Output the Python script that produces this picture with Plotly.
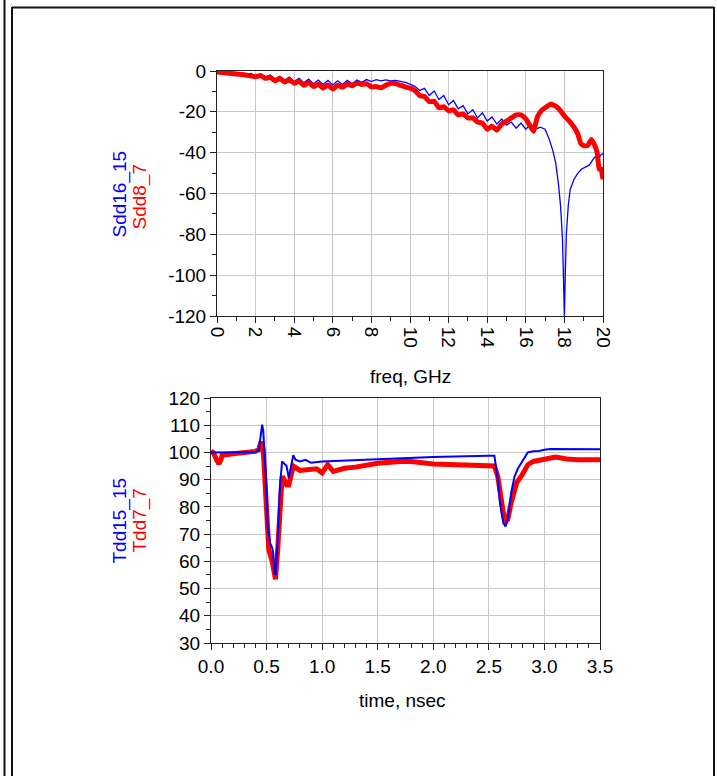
import plotly.graph_objects as go

W, H = 717, 776

# ---------------- data: top plot (S-parameters, dB vs freq GHz) ----------------
freq_blue = [0, 0.25, 0.5, 0.75, 1.0, 1.25, 1.5, 1.75, 2.0, 2.25, 2.5, 2.75, 3.0, 3.25, 3.5, 3.75,
             4.0, 4.25, 4.5, 4.75, 5.0, 5.25, 5.5, 5.75, 6.0, 6.25, 6.5, 6.75, 7.0, 7.25, 7.5, 7.75,
             8.0, 8.25, 8.5, 8.75, 9.0, 9.25, 9.5, 9.75, 10.0, 10.25, 10.5, 10.75, 11.0, 11.25, 11.5,
             11.75, 12.0, 12.25, 12.5, 12.75, 13.0, 13.25, 13.5, 13.75, 14.0, 14.25, 14.5, 14.75,
             15.0, 15.25, 15.5, 15.75, 16.0, 16.25, 16.5, 16.75, 17.0, 17.2, 17.4, 17.55, 17.7,
             17.8, 17.9, 17.95, 18.0, 18.05, 18.1, 18.2, 18.3, 18.5, 18.7, 18.9, 19.1, 19.3, 19.5,
             19.6, 19.75, 19.9, 20.0]
sdd16_15 = [0, -0.3, -0.5, -0.5, -1.0, -0.8, -1.6, -1.2, -2.4, -1.6, -3.2, -2.0, -4.0, -2.6, -4.6, -3.0,
            -5.2, -3.6, -5.8, -4.0, -6.2, -4.4, -6.6, -4.6, -6.8, -4.8, -6.6, -4.6, -6.2, -4.4, -5.6, -4.2,
            -5.2, -4.2, -4.8, -4.4, -4.8, -4.6, -5.0, -5.6, -6.4, -7.5, -9.5, -8.5, -12.0, -9.8, -14.0,
            -12.0, -16.5, -14.5, -18.5, -17.0, -21.0, -19.0, -23.0, -20.5, -24.5, -22.5, -26.0, -23.5,
            -26.5, -25.0, -28.0, -25.5, -28.5, -26.0, -28.5, -27.5, -28.5, -33.0, -39.0, -45.0, -56.0,
            -66.0, -82.0, -98.0, -120.0, -98.0, -80.0, -66.0, -58.0, -53.0, -50.0, -48.0, -47.0, -46.0, -43.0,
            -42.0, -43.0, -41.0, -40.5]

freq_red = [0, 0.5, 1.0, 1.5, 2.0, 2.25, 2.5, 2.75, 3.0, 3.25, 3.5, 3.75, 4.0, 4.25, 4.5, 4.75,
            5.0, 5.25, 5.5, 5.75, 6.0, 6.25, 6.5, 6.75, 7.0, 7.25, 7.5, 7.75, 8.0, 8.25, 8.5, 8.75,
            9.0, 9.25, 9.5, 9.75, 10.0, 10.25, 10.5, 10.75, 11.0, 11.25, 11.5, 11.75, 12.0, 12.25,
            12.5, 12.75, 13.0, 13.25, 13.5, 13.75, 14.0, 14.25, 14.5, 14.75, 15.0, 15.25, 15.5, 15.75,
            16.0, 16.2, 16.4, 16.5, 16.6, 16.8, 17.0, 17.3, 17.6, 17.8, 18.0, 18.3, 18.5, 18.7, 18.85,
            19.0, 19.2, 19.4, 19.55, 19.7, 19.8, 19.9, 20.0]
sdd8_7 = [-0.5, -1.0, -1.5, -2.0, -2.8, -2.2, -3.6, -3.0, -4.8, -3.6, -5.4, -4.4, -6.0, -5.0, -7.0, -5.6,
          -7.6, -6.4, -8.4, -6.8, -8.8, -7.0, -8.0, -6.4, -7.2, -6.0, -6.6, -6.2, -7.8, -7.6, -8.2, -7.0,
          -6.0, -6.2, -7.0, -7.8, -8.4, -9.5, -12.0, -12.5, -15.0, -14.8, -18.0, -17.5, -19.5, -19.0,
          -21.5, -21.0, -23.0, -23.0, -25.0, -25.5, -28.5, -27.0, -29.0, -26.0, -24.5, -23.0, -21.5, -21.5,
          -23.5, -26.5, -29.5, -26.0, -22.5, -19.5, -18.0, -16.3, -17.5, -19.5, -22.0, -25.0, -27.5, -31.0,
          -35.5, -36.5, -36.5, -33.5, -36.0, -40.0, -48.0, -48.0, -53.0]

# ---------------- data: bottom plot (TDR impedance vs time nsec) ----------------
time_blue = [0, 0.1, 0.2, 0.3, 0.4, 0.43, 0.45, 0.46, 0.47, 0.48, 0.5, 0.51, 0.53, 0.55, 0.56, 0.57,
             0.58, 0.6, 0.62, 0.64, 0.66, 0.68, 0.70, 0.72, 0.74, 0.76, 0.8, 0.85, 0.9, 1.0, 1.2, 1.5,
             1.8, 2.0, 2.5, 2.55, 2.58, 2.6, 2.63, 2.65, 2.67, 2.7, 2.73, 2.76, 2.8, 2.85, 2.9, 2.95,
             3.0, 3.05, 3.5]
tdd15_15 = [100, 100, 100, 100, 100.2, 100.8, 106, 110.2, 108, 102, 86, 73, 67, 65, 63, 56,
            55, 68, 87.6, 96.7, 96, 95, 90.6, 95.5, 99, 97.3, 96.7, 97.3, 96.2, 96.7, 97, 97.7,
            97.9, 98.3, 98.8, 98.8, 90, 81.4, 74, 72.8, 75.3, 85, 91, 94, 96.7, 100, 100.4, 100.5,
            101, 101.3, 101.2]

time_red = [0, 0.02, 0.05, 0.07, 0.09, 0.1, 0.2, 0.3, 0.4, 0.43, 0.45, 0.47, 0.48, 0.5, 0.52, 0.55,
            0.57, 0.58, 0.6, 0.62, 0.64, 0.66, 0.68, 0.7, 0.72, 0.74, 0.8, 0.9, 0.95, 1.0, 1.05, 1.1,
            1.2, 1.3, 1.5, 1.7, 1.8, 2.0, 2.5, 2.55, 2.58, 2.6, 2.63, 2.65, 2.67, 2.7, 2.75, 2.8,
            2.85, 2.9, 3.0, 3.1, 3.2, 3.3, 3.5]
tdd7_7 = [100.5, 100, 97.3, 95.8, 97.3, 99, 99.5, 99.8, 100.4, 101, 104, 101, 92.5, 75.3, 64.3, 60,
          54, 53.4, 64.3, 79, 91.2, 90, 88, 88, 91.2, 95, 93.4, 93.6, 94, 92.5, 95.5, 93,
          94.2, 94.6, 96, 96.7, 96.7, 95.8, 95.3, 95, 91.2, 85, 77.8, 74.7, 75.3, 81.4, 88.8, 91.8,
          95.5, 96.7, 97.3, 98.3, 97.6, 97.3, 97.3]

# tick labels
top_y_vals = [0, -20, -40, -60, -80, -100, -120]
top_y_text = ["0", "-20", "-40", "-60", "-80", "-100", "-120"]
top_x_vals = [0, 2, 4, 6, 8, 10, 12, 14, 16, 18, 20]
bot_y_vals = [30, 40, 50, 60, 70, 80, 90, 100, 110, 120]
bot_x_vals = [0.0, 0.5, 1.0, 1.5, 2.0, 2.5, 3.0, 3.5]

BLUE = "#0000ff"
RED = "#ff0000"
FONT = "Liberation Sans, Arial, sans-serif"
FS = 19

fig = go.Figure()
fig.add_trace(go.Scatter(x=freq_blue, y=sdd16_15, mode="lines", line=dict(color=BLUE, width=1.3),
                         xaxis="x", yaxis="y", showlegend=False))
fig.add_trace(go.Scatter(x=freq_red, y=sdd8_7, mode="lines", line=dict(color=RED, width=5, shape="spline", smoothing=0.4),
                         xaxis="x", yaxis="y", showlegend=False))
fig.add_trace(go.Scatter(x=time_red, y=tdd7_7, mode="lines", line=dict(color=RED, width=5),
                         xaxis="x2", yaxis="y2", showlegend=False))
fig.add_trace(go.Scatter(x=time_blue, y=tdd15_15, mode="lines", line=dict(color=BLUE, width=2),
                         xaxis="x2", yaxis="y2", showlegend=False))

def px(x):
    return x / W

def py(y):
    return 1 - y / H

axis_common = dict(showline=True, linecolor="#222", linewidth=1, mirror=True, automargin=False,
                   showgrid=True, gridcolor="#c8c8c8", gridwidth=1, zeroline=False,
                   ticks="outside", ticklen=6, tickcolor="#222", tickwidth=1,
                   tickfont=dict(family=FONT, size=FS, color="#000"))

fig.update_layout(
    width=W, height=H, margin=dict(l=0, r=0, t=0, b=0, pad=0), autosize=False,
    paper_bgcolor="white", plot_bgcolor="white",
    font=dict(family=FONT, size=FS, color="#000"),
    xaxis=dict(domain=[px(217), px(603)], range=[0, 20], anchor="y",
               tickvals=top_x_vals, tickangle=90,
               minor=dict(dtick=1, ticklen=4, tickcolor="#222", ticks="outside", showgrid=False),
               **axis_common),
    yaxis=dict(domain=[py(316), py(71)], range=[-120, 0], anchor="x",
               tickvals=top_y_vals, ticktext=top_y_text,
               minor=dict(dtick=10, ticklen=4, tickcolor="#222", ticks="outside", showgrid=False),
               **axis_common),
    xaxis2=dict(domain=[px(211), px(600)], range=[0, 3.5], anchor="y2",
                tickvals=bot_x_vals, tickformat=".1f",
                minor=dict(dtick=0.1, ticklen=4, tickcolor="#222", ticks="outside", showgrid=False),
                **axis_common),
    yaxis2=dict(domain=[py(643), py(398)], range=[30, 120], anchor="x2",
                tickvals=bot_y_vals,
                minor=dict(dtick=5, ticklen=4, tickcolor="#222", ticks="outside", showgrid=False),
                **axis_common),
)

ann = [
    dict(text="freq, GHz", x=px(410), y=py(376)),
    dict(text="time, nsec", x=px(402), y=py(700)),
    dict(text="Sdd16_15", x=px(119.5), y=py(194), textangle=-90, color=BLUE),
    dict(text="Sdd8_7", x=px(139.5), y=py(197), textangle=-90, color=RED),
    dict(text="Tdd15_15", x=px(119.5), y=py(521), textangle=-90, color=BLUE),
    dict(text="Tdd7_7", x=px(139.5), y=py(521), textangle=-90, color=RED),
]
for a in ann:
    fig.add_annotation(text=a["text"], x=a["x"], y=a["y"], xref="paper", yref="paper",
                       showarrow=False, xanchor="center", yanchor="middle",
                       textangle=a.get("textangle", 0),
                       font=dict(family=FONT, size=FS, color=a.get("color", "#000")))

# outer frame lines
frame = [
    (px(4.5), py(0), px(4.5), py(H)),
    (px(12), py(7), px(12), py(H)),
    (px(12), py(7.5), px(714), py(7.5)),
    (px(714), py(7), px(714), py(H)),
]
for x0, y0, x1, y1 in frame:
    fig.add_shape(type="line", xref="paper", yref="paper", x0=x0, y0=y0, x1=x1, y1=y1,
                  line=dict(color="#111", width=2))

fig.write_html("out.html",
               post_script="var s=document.createElement('style');s.innerHTML='html,body{margin:0;padding:0;overflow:hidden;}';document.head.appendChild(s);document.body.style.margin='0px';")
